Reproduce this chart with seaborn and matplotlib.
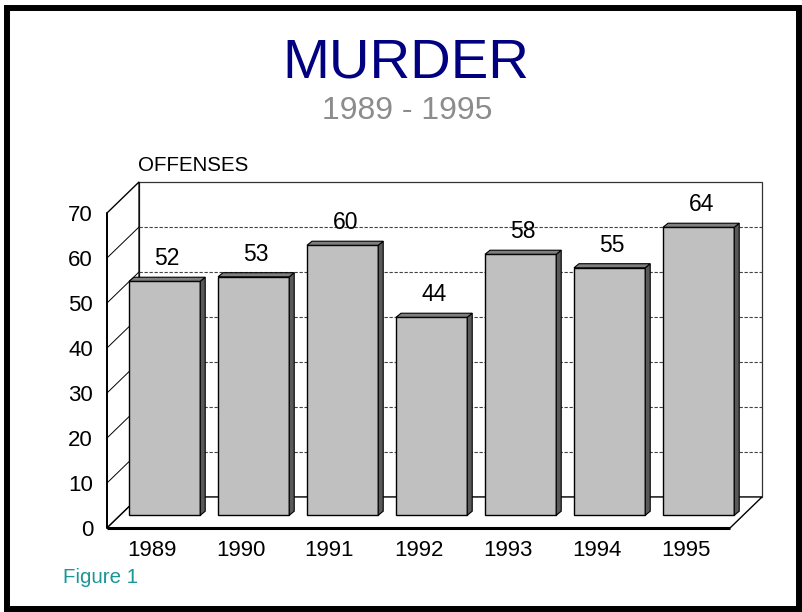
"""Murder offenses 1989-1995, pseudo-3D bar chart."""

import matplotlib
matplotlib.use("Agg")
import matplotlib.pyplot as plt
from matplotlib.patches import Polygon, Rectangle
import seaborn as sns

years = ["1989", "1990", "1991", "1992", "1993", "1994", "1995"]
offenses = [52, 53, 60, 44, 58, 55, 64]
y_ticks = [0, 10, 20, 30, 40, 50, 60, 70]

sns.set_theme(style="white")
plt.rcParams["font.family"] = ["Liberation Sans", "DejaVu Sans"]

W, H = 802, 612
fig = plt.figure(figsize=(W / 100, H / 100), dpi=100)
# front plane of the box: x 107..730 px, y 213..528 px
ax = fig.add_axes([107 / W, 1 - 528 / H, 623 / W, 315 / H])

# depth of the box and of the bars, in data units
DX, DY = 0.36, 6.9
OFF_X, OFF_Y = 0.41 * DX, 0.41 * DY
BDX, BDY = 0.056, 0.9
x0, x1 = -0.5, len(years) - 0.5
ymax = y_ticks[-1]

# walls
back = Polygon([(x0 + DX, DY), (x1 + DX, DY), (x1 + DX, ymax + DY), (x0 + DX, ymax + DY)],
               closed=True, facecolor="white", edgecolor="#333333", lw=0.9, zorder=0.5, clip_on=False)
left = Polygon([(x0, 0), (x0 + DX, DY), (x0 + DX, ymax + DY), (x0, ymax)],
               closed=True, facecolor="white", edgecolor="black", lw=1.0, zorder=0.5, clip_on=False)
floor = Polygon([(x0, 0), (x1, 0), (x1 + DX, DY), (x0 + DX, DY)],
                closed=True, facecolor="white", edgecolor="black", lw=1.0, zorder=0.6, clip_on=False)
for p in (back, left, floor):
    ax.add_patch(p)
ax.plot([x0, x1], [0, 0], color="black", lw=2.2, zorder=3, clip_on=False, solid_capstyle="butt")
ax.plot([x0, x0], [0, ymax], color="black", lw=1.4, zorder=3, clip_on=False)

# gridlines on back wall and left wall
for v in y_ticks[1:-1]:
    ax.plot([x0 + DX, x1 + DX], [v + DY, v + DY], color="#444444", lw=0.8,
            ls=(0, (3, 1.5)), zorder=0.8, clip_on=False)
    ax.plot([x0, x0 + DX], [v, v + DY], color="black", lw=0.7, zorder=0.8, clip_on=False)

# bars
sns.barplot(x=list(range(len(years))), y=offenses, ax=ax, color="#c0c0c0",
            edgecolor="black", linewidth=1.0, width=0.8, saturation=1, native_scale=False)
for p, v in zip(ax.patches[3:], offenses):
    p.set_x(p.get_x() + OFF_X)
    p.set_y(OFF_Y)
    p.set_zorder(2)
    p.set_clip_on(False)
    bx, bw = p.get_x(), p.get_width()
    by, bh = OFF_Y, v
    side = Polygon([(bx + bw, by), (bx + bw + BDX, by + BDY), (bx + bw + BDX, by + bh + BDY), (bx + bw, by + bh)],
                   closed=True, facecolor="#595959", edgecolor="black", lw=0.8, zorder=2, clip_on=False)
    top = Polygon([(bx, by + bh), (bx + BDX, by + bh + BDY), (bx + bw + BDX, by + bh + BDY), (bx + bw, by + bh)],
                  closed=True, facecolor="#7f7f7f", edgecolor="black", lw=0.8, zorder=2, clip_on=False)
    ax.add_patch(side)
    ax.add_patch(top)
    ax.annotate(str(v), (bx + bw / 2 + BDX / 2, by + bh + BDY), xytext=(0, 8.5),
                textcoords="offset points", ha="center", va="baseline", fontsize=16.5, color="black")

ax.set_xlim(x0, x1)
ax.set_ylim(0, ymax)
ax.set_xticks(range(len(years)))
ax.set_xticklabels(years, fontsize=16)
ax.set_yticks(y_ticks)
ax.set_yticklabels([str(t) for t in y_ticks], fontsize=16)
ax.tick_params(axis="both", length=0, colors="black")
ax.tick_params(axis="x", pad=9)
ax.tick_params(axis="y", pad=10)
ax.set_xlabel("")
ax.set_ylabel("")
for s in ax.spines.values():
    s.set_visible(False)
ax.patch.set_visible(False)

# texts
fig.text(406 / W, 1 - 77 / H, "MURDER", ha="center", va="baseline", fontsize=40.5, color="#000080")
fig.text(407 / W, 1 - 119 / H, "1989 - 1995", ha="center", va="baseline", fontsize=23, color="#8c8c8c")
fig.text(138 / W, 1 - 171 / H, "OFFENSES", ha="left", va="baseline", fontsize=14.8, color="black")
fig.text(63 / W, 1 - 583 / H, "Figure 1", ha="left", va="baseline", fontsize=14.8, color="#1a9696")

# frame around the whole figure
fig.patches.append(Rectangle((7 / W, 3 / H), 792 / W, 1 - 11 / H, transform=fig.transFigure,
                             fill=False, edgecolor="black", lw=4.3, zorder=10))

fig.savefig("out.png", dpi=100)
plt.close(fig)
